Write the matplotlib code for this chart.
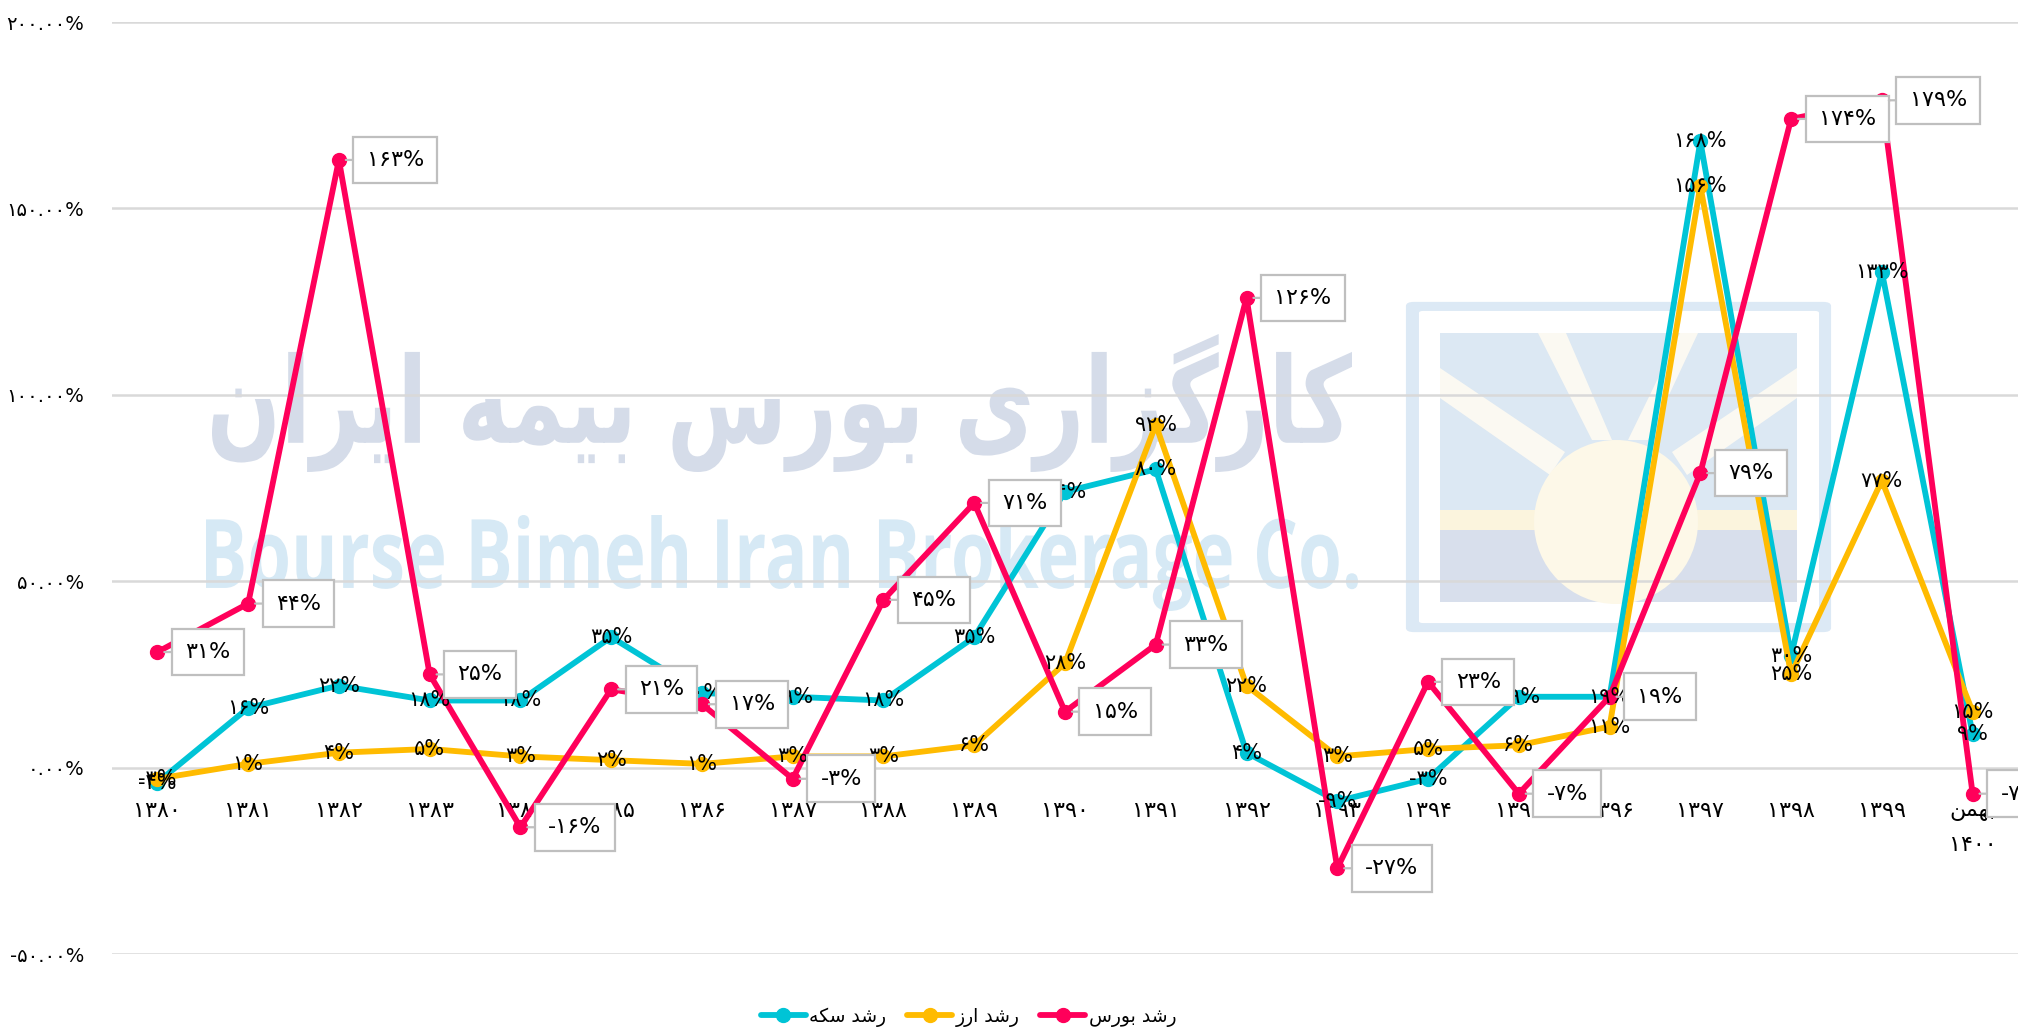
import matplotlib
matplotlib.use('Agg')
import numpy as np
from matplotlib import pyplot as plt
from matplotlib.textpath import TextPath
from matplotlib.font_manager import FontProperties
from matplotlib.patches import PathPatch, FancyBboxPatch, Rectangle, Ellipse, Polygon
from matplotlib.transforms import Affine2D

# Annual growth (%) per year, last point is Bahman 1400
years = ['۱۳۸۰', '۱۳۸۱', '۱۳۸۲', '۱۳۸۳', '۱۳۸۴', '۱۳۸۵', '۱۳۸۶', '۱۳۸۷', '۱۳۸۸', '۱۳۸۹',
         '۱۳۹۰', '۱۳۹۱', '۱۳۹۲', '۱۳۹۳', '۱۳۹۴', '۱۳۹۵', '۱۳۹۶', '۱۳۹۷', '۱۳۹۸', '۱۳۹۹']
last_month = 'بهمن'
last_year = '۱۴۰۰'

coin_growth = [-4, 16, 22, 18, 18, 35, 20, 19, 18, 35, 74, 80, 4, -9, -3, 19, 19, 168, 30, 133, 9]
fx_growth = [-3, 1, 4, 5, 3, 2, 1, 3, 3, 6, 28, 92, 22, 3, 5, 6, 11, 156, 25, 77, 15]
stock_growth = [31, 44, 163, 25, -16, 21, 17, -3, 45, 71, 15, 33, 126, -27, 23, -7, 19, 79, 174, 179, -7]

series_names = ['رشد سکه', 'رشد ارز', 'رشد بورس']
series_colors = ['#00c4d6', '#ffbb00', '#ff005a']

yticks = [-50, 0, 50, 100, 150, 200]

watermark_fa = 'کارگزاری بورس بیمه ایران'
watermark_en = 'Bourse Bimeh Iran Brokerage Co.'

W, H = 2018, 1030

FA_DIGITS = str.maketrans('0123456789', '۰۱۲۳۴۵۶۷۸۹')

# contextual forms: isolated, final, initial, medial
FORMS = {
    'ا': ('\uFE8D', '\uFE8E'),
    'د': ('\uFEA9', '\uFEAA'),
    'ر': ('\uFEAD', '\uFEAE'),
    'ز': ('\uFEAF', '\uFEB0'),
    'و': ('\uFEED', '\uFEEE'),
    'ب': ('\uFE8F', '\uFE90', '\uFE91', '\uFE92'),
    'س': ('\uFEB1', '\uFEB2', '\uFEB3', '\uFEB4'),
    'ش': ('\uFEB5', '\uFEB6', '\uFEB7', '\uFEB8'),
    'م': ('\uFEE1', '\uFEE2', '\uFEE3', '\uFEE4'),
    'ن': ('\uFEE5', '\uFEE6', '\uFEE7', '\uFEE8'),
    'ه': ('\uFEE9', '\uFEEA', '\uFEEB', '\uFEEC'),
    'ک': ('\uFB8E', '\uFB8F', '\uFB90', '\uFB91'),
    'گ': ('\uFB92', '\uFB93', '\uFB94', '\uFB95'),
    'ی': ('\uFBFC', '\uFBFD', '\uFBFE', '\uFBFF'),
}


def fa(text):
    '''Join Persian letters and put them in visual (left-to-right) order.'''
    out = []
    for i, ch in enumerate(text):
        f = FORMS.get(ch)
        if f is None:
            out.append(ch)
            continue
        prev = text[i - 1] if i > 0 else ''
        nxt = text[i + 1] if i + 1 < len(text) else ''
        join_prev = prev in FORMS and len(FORMS[prev]) == 4
        join_next = len(f) == 4 and nxt in FORMS
        if join_prev and join_next:
            out.append(f[3])
        elif join_prev:
            out.append(f[1])
        elif join_next:
            out.append(f[2])
        else:
            out.append(f[0])
    return ''.join(reversed(out))


def pct(v, fmt='{:d}%'):
    return fmt.format(v).translate(FA_DIGITS)


def fx(x):
    return x / W


def fy(y):
    return 1 - y / H


def stamp(fig, text, prop, box, color):
    '''Draw text as a path stretched to fill a pixel box (x0, y0, x1, y1).'''
    tp = TextPath((0, 0), text, size=100, prop=prop)
    ext = tp.get_extents()
    x0, y0, x1, y1 = box
    tr = (Affine2D().translate(-ext.x0, -ext.y0)
          .scale((fx(x1) - fx(x0)) / ext.width, (fy(y0) - fy(y1)) / ext.height)
          .translate(fx(x0), fy(y1)))
    fig.patches.append(PathPatch(tp, transform=tr + fig.transFigure, fc=color, ec='none', zorder=-5))


plt.rcParams['font.family'] = ['DejaVu Sans']

fig = plt.figure(figsize=(W / 100, H / 100), dpi=100)
ax = fig.add_axes([fx(112), fy(954), 1 - fx(112), (954 - 22) / H])
ax.set_facecolor('none')

# Watermark behind the chart
stamp(fig, fa(watermark_fa), FontProperties(family='DejaVu Sans', weight='bold'),
      (212, 334, 1352, 472), '#d5dce9')
stamp(fig, watermark_en, FontProperties(family='Open Sans', weight='bold'),
      (206, 515, 1358, 611), '#d6e9f5')

logo = [
    FancyBboxPatch((fx(1414), fy(628)), fx(1823) - fx(1414), fy(306) - fy(628),
                   boxstyle='round,pad=0.004', fc='#dce9f5', ec='none'),
    FancyBboxPatch((fx(1423), fy(621)), fx(1815) - fx(1423), fy(313) - fy(621),
                   boxstyle='round,pad=0.002', fc='white', ec='none'),
    Rectangle((fx(1440), fy(602)), fx(1797) - fx(1440), fy(333) - fy(602), fc='#dce8f3', ec='none'),
    Rectangle((fx(1440), fy(602)), fx(1797) - fx(1440), fy(530) - fy(602), fc='#d8dfec', ec='none'),
    Polygon([(fx(1538), fy(333)), (fx(1566), fy(333)), (fx(1612), fy(440)), (fx(1592), fy(440))],
            fc='#fbf9f2', ec='none'),
    Polygon([(fx(1680), fy(333)), (fx(1698), fy(333)), (fx(1648), fy(440)), (fx(1628), fy(440))],
            fc='#fbf9f2', ec='none'),
    Polygon([(fx(1440), fy(368)), (fx(1440), fy(398)), (fx(1550), fy(475)), (fx(1565), fy(452))],
            fc='#fbf9f2', ec='none'),
    Polygon([(fx(1797), fy(368)), (fx(1797), fy(398)), (fx(1687), fy(475)), (fx(1672), fy(452))],
            fc='#fbf9f2', ec='none'),
    Rectangle((fx(1440), fy(530)), fx(1797) - fx(1440), fy(510) - fy(530), fc='#fbf4dd', ec='none'),
    Ellipse((fx(1616), fy(522)), 2 * 82 / W, 2 * 82 / H, fc='#fdf8e8', ec='none'),
]
for p in logo:
    p.set_transform(fig.transFigure)
    p.set_zorder(-4)
    fig.patches.append(p)

# category axis sits on the zero line
ax.spines['bottom'].set_position(('data', 0))
for s in ax.spines.values():
    s.set_color('none')

x = np.arange(len(years) + 1)
series = [coin_growth, fx_growth, stock_growth]

for name, vals, color in zip(series_names, series, series_colors):
    ax.plot(x, vals, color=color, lw=4.2, marker='o', ms=10, label=fa(name),
            solid_capstyle='round', zorder=3)

# centred value labels for coin and currency
for vals in (coin_growth, fx_growth):
    for xi, v in zip(x, vals):
        ax.text(xi, v, pct(v), ha='center', va='center', fontsize=15, color='black', zorder=6)

# callout labels for stock market
for xi, v in zip(x, stock_growth):
    ax.annotate(pct(v), xy=(xi, v), xytext=(20, 0), textcoords='offset points',
                ha='left', va='center', fontsize=16, color='black', zorder=7,
                bbox=dict(boxstyle='square,pad=0.6', fc='white', ec='#bfbfbf', lw=1.6),
                arrowprops=dict(arrowstyle='-', color='#bfbfbf', lw=1.6, shrinkA=0, shrinkB=5))

ax.set_xlim(-0.5, len(x) - 0.5)
ax.set_ylim(-50, 200)
ax.set_yticks(yticks)
ax.set_yticklabels([pct(v, '{:.2f}%') for v in yticks], fontsize=14)
ax.set_xticks(x)
xlabels = ax.set_xticklabels(years + [fa(last_month) + '\n' + last_year], fontsize=16)
xlabels[-1].set_linespacing(1.9)

ax.tick_params(axis='both', length=0)
ax.tick_params(axis='y', pad=20)
ax.tick_params(axis='x', pad=24)
ax.grid(axis='y', color='#d9d9d9', lw=1.8)
ax.set_axisbelow(True)

fig.legend(loc='center', bbox_to_anchor=(0.48, fy(1017)), ncol=3, frameon=False,
           fontsize=13.5, handlelength=2.4, columnspacing=1.1, handletextpad=0.2)

fig.savefig('out.png', dpi=100)
